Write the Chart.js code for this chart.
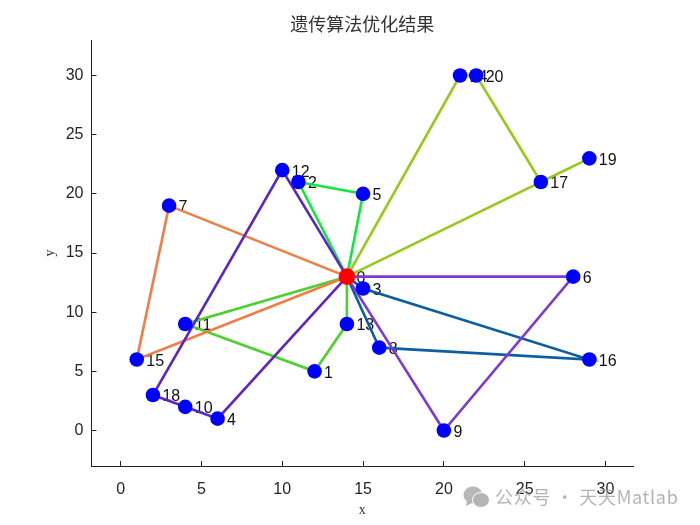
<!DOCTYPE html>
<html>
<head>
<meta charset="utf-8">
<style>
body { margin: 0; background: #fff; }
canvas { display: block; }
</style>
<script src="https://cdn.jsdelivr.net/npm/chart.js@4"></script>
</head>
<body>
<canvas id="chart" width="700" height="525"></canvas>
<script>
// customer coordinates, index = node number, node 0 is the depot
const nodeX = [14, 12, 11, 15, 6, 15, 28, 3, 16, 20, 4, 4, 10, 14, 21, 1, 29, 26, 2, 29, 22];
const nodeY = [13, 5, 21, 12, 1, 20, 13, 19, 7, 0, 2, 9, 22, 9, 30, 6, 6, 21, 3, 23, 30];

// routes found by the GA
const routeA = [0, 3, 16, 8, 0];
const routeB = [0, 13, 1, 11, 0];
const routeC = [0, 2, 5, 0];
const routeD = [0, 14, 20, 17, 19, 0];
const routeE = [0, 7, 15, 0];
const routeF = [0, 12, 18, 10, 4, 0];
const routeG = [0, 6, 9, 0];

const routes = [routeA, routeB, routeC, routeD, routeE, routeF, routeG];
const routeColors = ["#0b5fa0", "#4dd12e", "#10e840", "#97c91a", "#f27c45", "#5a27c4", "#7e3ad0"];

const titleText = "遗传算法优化结果";
const xLabel = "x";
const yLabel = "y";
const tickFont = { family: "'Liberation Sans', Arial, sans-serif", size: 16 };
const axisColor = "#222222";
const textColor = "#262626";

const nodePoints = nodeX.map((x, i) => ({ x: x, y: nodeY[i] }));

const datasets = [];
datasets.push({
    label: "depot",
    data: [nodePoints[0]],
    showLine: false,
    pointRadius: 8.3,
    pointBackgroundColor: "#ff0000",
    pointBorderWidth: 0,
    order: 0
});
datasets.push({
    label: "nodes",
    data: nodePoints.slice(1),
    showLine: false,
    pointRadius: 7.3,
    pointBackgroundColor: "#0000ff",
    pointBorderWidth: 0,
    order: 1
});
routes.forEach((route, i) => {
    datasets.push({
        label: "route " + (i + 1),
        data: route.map(n => nodePoints[n]),
        showLine: true,
        borderColor: routeColors[i],
        borderWidth: 2.6,
        pointRadius: 0,
        tension: 0,
        order: 2 + routes.length - i
    });
});

// node numbers sit under the lines and markers
const nodeLabels = {
    id: "nodeLabels",
    beforeDatasetsDraw(chart) {
        const ctx = chart.ctx;
        ctx.save();
        ctx.font = "16px 'Liberation Sans', Arial, sans-serif";
        ctx.fillStyle = "#111111";
        ctx.textAlign = "left";
        ctx.textBaseline = "middle";
        nodePoints.forEach((p, i) => {
            ctx.fillText(String(i), chart.scales.x.getPixelForValue(p.x) + 9.5,
                chart.scales.y.getPixelForValue(p.y) + 2);
        });
        ctx.restore();
    }
};

const watermark = {
    id: "watermark",
    afterDraw(chart) {
        const ctx = chart.ctx;
        ctx.save();
        ctx.fillStyle = "rgba(165,165,165,0.8)";
        // wechat logo
        ctx.beginPath();
        ctx.ellipse(473, 495, 9.5, 8.5, 0, 0, Math.PI * 2);
        ctx.fill();
        ctx.beginPath();
        ctx.moveTo(467, 501);
        ctx.lineTo(466, 506);
        ctx.lineTo(472, 503);
        ctx.fill();
        ctx.fillStyle = "rgba(180,180,180,1)";
        ctx.strokeStyle = "#ffffff";
        ctx.lineWidth = 1;
        ctx.beginPath();
        ctx.ellipse(481, 500, 8.5, 7.5, 0, 0, Math.PI * 2);
        ctx.fill();
        ctx.stroke();
        ctx.fillStyle = "rgba(160,160,160,0.8)";
        ctx.font = "18px 'Noto Sans CJK SC', 'Noto Sans', sans-serif";
        ctx.textBaseline = "middle";
        ctx.letterSpacing = "0.7px";
        ctx.fillText("公众号 · 天天Matlab", 495, 497);
        ctx.restore();
    }
};

const chart = new Chart(document.getElementById("chart").getContext("2d"), {
    type: "scatter",
    data: { datasets: datasets },
    plugins: [nodeLabels, watermark],
    options: {
        responsive: false,
        animation: false,
        layout: { padding: { left: 0, right: 67, top: 0, bottom: 0 } },
        plugins: {
            legend: { display: false },
            tooltip: { enabled: false },
            title: {
                display: true,
                fullSize: false,
                text: titleText,
                color: "#333333",
                font: { family: "'Noto Sans CJK SC', sans-serif", size: 18, weight: "normal" },
                padding: { top: 13, bottom: 5.4 }
            }
        },
        scales: {
            x: {
                min: -1.8,
                max: 31.7,
                afterFit(scale) { scale.height = 59; },
                border: { color: axisColor, width: 1 },
                grid: { drawOnChartArea: false, drawTicks: true, tickLength: -5, tickColor: axisColor },
                ticks: { stepSize: 5, includeBounds: false, maxRotation: 0, color: textColor, font: tickFont, padding: 19 },
                title: {
                    display: true,
                    text: xLabel,
                    color: "#333333",
                    font: { family: "'Liberation Serif', serif", size: 14 },
                    padding: { top: 0, bottom: 6 }
                }
            },
            y: {
                min: -3,
                max: 33,
                afterFit(scale) { scale.width = 91.5; },
                border: { color: axisColor, width: 1 },
                grid: { drawOnChartArea: false, drawTicks: true, tickLength: -5, tickColor: axisColor },
                ticks: { stepSize: 5, includeBounds: false, color: textColor, font: tickFont, padding: 13 },
                title: {
                    display: true,
                    text: yLabel,
                    color: "#333333",
                    font: { family: "'Liberation Serif', serif", size: 14 },
                    padding: { top: 42, bottom: 0 }
                }
            }
        }
    }
});
</script>
</body>
</html>
